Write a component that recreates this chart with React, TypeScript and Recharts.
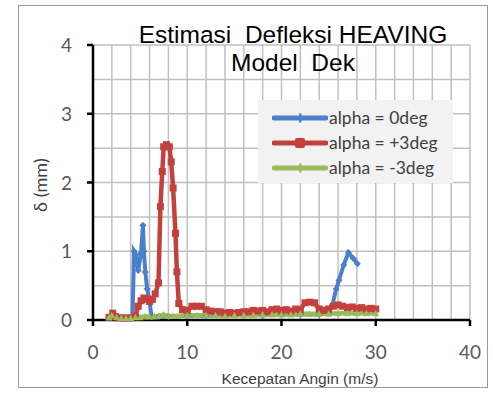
import React from "react";
import { LineChart, Line, XAxis, YAxis, CartesianGrid } from "recharts";

// values
const blueX = [1.8, 2.5, 3, 3.5, 4, 4.2, 4.35, 4.55, 4.8, 5.1, 5.3, 5.4, 5.55, 5.75, 6.0, 6.2, 7, 8, 10, 12, 14, 16, 18, 20, 22, 24, 25, 25.4, 25.8, 26.1, 26.6, 27.1, 27.6, 28.05];
const blueY = [0.04, 0.03, 0.03, 0.03, 0.04, 0.05, 1.0, 0.95, 0.72, 0.98, 1.38, 1.0, 0.7, 0.45, 0.28, 0.05, 0.05, 0.05, 0.06, 0.06, 0.07, 0.07, 0.07, 0.08, 0.08, 0.08, 0.1, 0.22, 0.45, 0.58, 0.8, 0.98, 0.9, 0.82];

const redX = [1.7, 2.1, 2.4, 2.8, 3.2, 3.6, 4, 4.5, 4.8, 5.1, 5.4, 5.7, 6.0, 6.3, 6.6, 6.95, 7.15, 7.35, 7.5, 7.8, 8.1, 8.3, 8.5, 8.75, 8.9, 9.1, 9.5, 10, 10.5, 11, 11.5, 12, 12.5, 13, 13.5, 14, 14.5, 15, 15.5, 16, 16.5, 17, 17.5, 18, 18.5, 19, 19.5, 20, 20.5, 21, 21.5, 22, 22.5, 23, 23.5, 24, 24.5, 25, 25.5, 26, 26.5, 27, 27.5, 28, 28.5, 29, 29.5, 30];
const redY = [0.04, 0.1, 0.05, 0.03, 0.03, 0.03, 0.03, 0.05, 0.2, 0.28, 0.32, 0.3, 0.27, 0.3, 0.38, 0.54, 1.65, 2.16, 2.52, 2.55, 2.52, 2.3, 1.92, 1.26, 0.7, 0.24, 0.15, 0.14, 0.2, 0.2, 0.2, 0.15, 0.13, 0.12, 0.12, 0.1, 0.11, 0.1, 0.11, 0.12, 0.12, 0.14, 0.13, 0.14, 0.12, 0.15, 0.16, 0.14, 0.15, 0.13, 0.16, 0.15, 0.25, 0.26, 0.25, 0.16, 0.14, 0.16, 0.2, 0.22, 0.2, 0.18, 0.19, 0.17, 0.18, 0.16, 0.17, 0.16];

const greenX = [1.7, 2, 2.5, 3, 3.5, 4, 4.5, 5, 5.5, 6, 6.5, 7, 7.5, 8, 8.5, 9, 10, 11, 12, 13, 14, 15, 16, 17, 18, 19, 20, 21, 22, 23, 24, 25, 26, 27, 28, 29, 30];
const greenY = [0.04, 0.07, 0.04, 0.03, 0.03, 0.03, 0.04, 0.04, 0.05, 0.05, 0.05, 0.06, 0.08, 0.06, 0.06, 0.06, 0.07, 0.07, 0.07, 0.07, 0.06, 0.07, 0.07, 0.07, 0.08, 0.08, 0.08, 0.08, 0.09, 0.09, 0.09, 0.09, 0.1, 0.1, 0.1, 0.1, 0.1];

const seriesNames = ["alpha = 0deg", "alpha = +3deg", "alpha = -3deg"];
const gridX = [0, 2, 4, 6, 8, 10, 12, 14, 16, 18, 20, 22, 24, 26, 28, 30, 32, 34, 36, 38, 40];
const gridY = [0, 0.5, 1, 1.5, 2, 2.5, 3, 3.5, 4];

const BLUE = "#4a7fcb";
const RED = "#c4403d";
const GREEN = "#9bbb59";
const GRID = "#c0c0c0";

const toPoints = (xs: number[], ys: number[]) => xs.map((x, i) => ({ x, y: ys[i] }));

const blueData = toPoints(blueX, blueY);
const redData = toPoints(redX, redY);
const greenData = toPoints(greenX, greenY);

const diamondDot = (props: any) => {
  const { cx, cy, index } = props;
  return <path key={`b${index}`} d={`M${cx},${cy - 3.5}L${cx + 3.5},${cy}L${cx},${cy + 3.5}L${cx - 3.5},${cy}Z`} fill={BLUE} />;
};
const squareDot = (props: any) => {
  const { cx, cy, index } = props;
  return <rect key={`r${index}`} x={cx - 3.5} y={cy - 3.5} width={7} height={7} fill={RED} />;
};
const triangleDot = (props: any) => {
  const { cx, cy, index } = props;
  return <path key={`g${index}`} d={`M${cx},${cy - 3.5}L${cx + 3.5},${cy + 3}L${cx - 3.5},${cy + 3}Z`} fill={GREEN} />;
};

const XTick = (props: any) => {
  const { x, y, payload } = props;
  if (payload.value % 10 !== 0) return <g />;
  return (
    <g>
      <line x1={x} x2={x} y1={y} y2={y + 6} stroke="#000" strokeWidth={2.5} />
      <text x={x} y={y + 39} textAnchor="middle" fontSize={19} fill="#595959" fontFamily="Lato, 'Open Sans', sans-serif">
        {payload.value}
      </text>
    </g>
  );
};

const YTick = (props: any) => {
  const { x, y, payload } = props;
  if (payload.value % 1 !== 0) return <g />;
  return (
    <g>
      <line x1={x - 6} x2={x} y1={y} y2={y} stroke="#000" strokeWidth={2.5} />
      <text x={x - 21} y={y + 7} textAnchor="end" fontSize={19} fill="#595959" fontFamily="Lato, 'Open Sans', sans-serif">
        {payload.value}
      </text>
    </g>
  );
};

const legendItems = [
  { name: seriesNames[0], color: BLUE, shape: "diamond" },
  { name: seriesNames[1], color: RED, shape: "square" },
  { name: seriesNames[2], color: GREEN, shape: "triangle" },
];

function LegendBox() {
  return (
    <div
      style={{
        position: "absolute",
        left: 258,
        top: 100,
        width: 195,
        height: 83,
        background: "#f2f2f2",
        boxSizing: "border-box",
        paddingTop: 5,
      }}
    >
      {legendItems.map((item) => (
        <div key={item.name} style={{ display: "flex", alignItems: "center", height: 25 }}>
          <svg width={56} height={12} style={{ marginLeft: 14 }}>
            <line x1={2} x2={54} y1={6} y2={6} stroke={item.color} strokeWidth={5} strokeLinecap="round" />
            {item.shape === "square" ? (
              <rect x={23} y={1} width={10} height={10} fill={item.color} rx={2} />
            ) : (
              <rect x={27} y={1.5} width={2.5} height={9} fill={item.color} />
            )}
          </svg>
          <span style={{ fontFamily: "Lato, 'Open Sans', sans-serif", fontSize: 17.5, color: "#404040", marginLeft: 1 }}>
            {item.name}
          </span>
        </div>
      ))}
    </div>
  );
}

export default function App() {
  return (
    <div style={{ position: "absolute", left: 0, top: 0, width: 493, height: 394, background: "#fff" }}>
      <div
        style={{
          position: "absolute",
          left: 18,
          top: 5,
          width: 468,
          height: 381,
          border: "1.5px solid #9a9a9a",
        }}
      />
      <LineChart width={493} height={394} margin={{ top: 45, right: 23, bottom: 44, left: 33 }}>
        <CartesianGrid stroke={GRID} strokeWidth={1.5} />
        <XAxis
          type="number"
          dataKey="x"
          domain={[0, 40]}
          ticks={gridX}
          interval={0}
          height={30}
          tickSize={0}
          tickMargin={0}
          tickLine={false}
          axisLine={{ stroke: "#000", strokeWidth: 2.5 }}
          tick={<XTick />}
        />
        <YAxis
          type="number"
          domain={[0, 4]}
          ticks={gridY}
          interval={0}
          width={60}
          tickSize={0}
          tickMargin={0}
          tickLine={false}
          axisLine={{ stroke: "#000", strokeWidth: 2.5 }}
          tick={<YTick />}
        />
        <Line data={blueData} dataKey="y" name={seriesNames[0]} stroke={BLUE} strokeWidth={4} dot={diamondDot} isAnimationActive={false} />
        <Line data={redData} dataKey="y" name={seriesNames[1]} stroke={RED} strokeWidth={4.5} dot={squareDot} isAnimationActive={false} />
        <Line data={greenData} dataKey="y" name={seriesNames[2]} stroke={GREEN} strokeWidth={4.5} dot={triangleDot} isAnimationActive={false} />
      </LineChart>
      <div
        style={{
          position: "absolute",
          left: 93,
          width: 400,
          top: 21,
          textAlign: "center",
          fontFamily: "'Liberation Sans', Arial, sans-serif",
          fontSize: 24.5,
          lineHeight: "28px",
          color: "#000",
          whiteSpace: "pre",
        }}
      >
        {"Estimasi  Defleksi HEAVING\nModel  Dek"}
      </div>
      <LegendBox />
      <div
        style={{
          position: "absolute",
          left: 0,
          width: 600,
          top: 370,
          textAlign: "center",
          fontFamily: "'Liberation Sans', Arial, sans-serif",
          fontSize: 15.5,
          color: "#404040",
        }}
      >
        Kecepatan Angin (m/s)
      </div>
      <div
        style={{
          position: "absolute",
          left: 40,
          top: 185,
          transform: "translate(-50%, -50%) rotate(-90deg)",
          fontFamily: "Lato, 'Open Sans', sans-serif",
          fontSize: 18,
          color: "#404040",
          whiteSpace: "nowrap",
        }}
      >
        δ (mm)
      </div>
    </div>
  );
}
